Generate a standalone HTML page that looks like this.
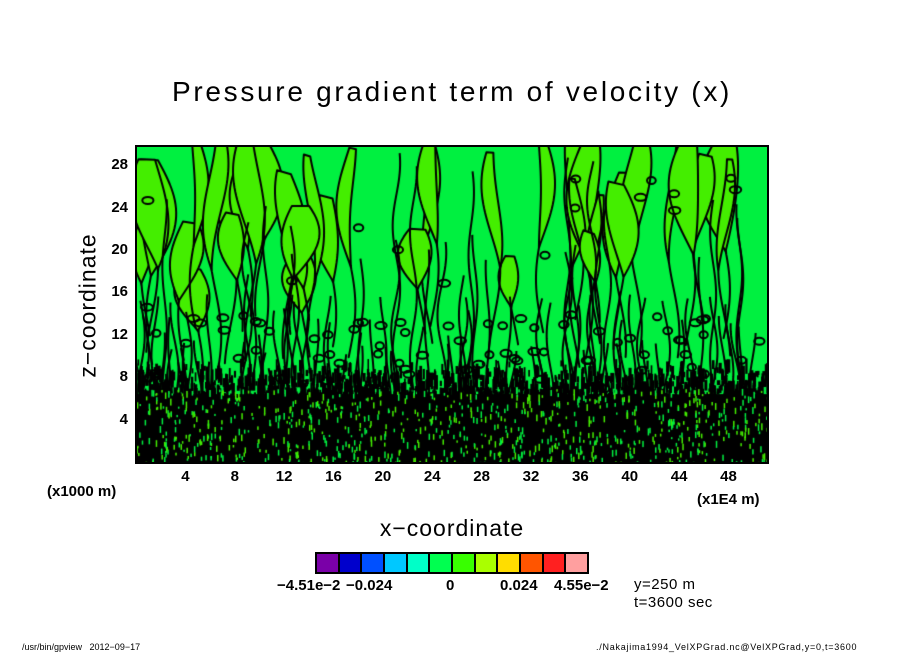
<!DOCTYPE html>
<html><head><meta charset="utf-8"><style>
body{margin:0;background:#fff;width:904px;height:654px;overflow:hidden;position:relative;font-family:"Liberation Sans",sans-serif}
.t{position:absolute;white-space:nowrap;color:#000}
</style></head><body>
<div class="t" style="left:0;width:904px;text-align:center;top:76px;font-size:28px;letter-spacing:2.7px">Pressure gradient term of velocity (x)</div>
<div class="t" style="left:-2px;top:292px;font-size:23px;transform:rotate(-90deg);width:180px;text-align:center;letter-spacing:1px">z−coordinate</div>
<div class="t" style="left:0;width:904px;text-align:center;top:515px;font-size:23px;letter-spacing:1px">x−coordinate</div>
<div class="t" style="left:47px;top:483px;font-size:15px;font-weight:bold">(x1000 m)</div>
<div class="t" style="left:697px;top:491px;font-size:15px;font-weight:bold">(x1E4 m)</div>
<div id="yt"></div><div id="xt"></div>
<canvas id="cv" width="632" height="317" style="position:absolute;left:136px;top:146px"></canvas>
<div style="position:absolute;left:135px;top:145px;width:634px;height:319px;border:2px solid #000;box-sizing:border-box"></div>
<div id="cb" style="position:absolute;left:315px;top:552px;height:22px;width:274px;box-sizing:border-box;border:2px solid #000;display:flex"></div>
<div class="t" style="left:277px;top:577px;font-size:15px;font-weight:bold">−4.51e−2</div>
<div class="t" style="left:346px;top:577px;font-size:15px;font-weight:bold">−0.024</div>
<div class="t" style="left:446px;top:577px;font-size:15px;font-weight:bold">0</div>
<div class="t" style="left:500px;top:577px;font-size:15px;font-weight:bold">0.024</div>
<div class="t" style="left:554px;top:577px;font-size:15px;font-weight:bold">4.55e−2</div>
<div class="t" style="left:634px;top:576px;font-size:15px;letter-spacing:0.5px">y=250 m</div>
<div class="t" style="left:634px;top:594px;font-size:15px;letter-spacing:0.5px">t=3600 sec</div>
<div class="t" style="left:22px;top:642px;font-size:9px">/usr/bin/gpview&nbsp;&nbsp; 2012−09−17</div>
<div class="t" style="left:596px;top:642px;font-size:9px;letter-spacing:0.75px">./Nakajima1994_VelXPGrad.nc@VelXPGrad,y=0,t=3600</div>
<script>
const xTicks=[4,8,12,16,20,24,28,32,36,40,44,48];
const yTicks=[4,8,12,16,20,24,28];
const cbColors=['#7a00a8','#0000cc','#0050ff','#00c8ff','#00ffc8','#00ff50','#38ff00','#aaff00','#ffdd00','#ff5500','#ff2020','#ff9f9f'];
const X0=136,XW=632,XMAX=51.2,Y0=463,YH=317,YMAX=29.9;
const sx=v=>X0+v/XMAX*XW, sy=v=>Y0-v/YMAX*YH;
const xt=document.getElementById('xt');
xTicks.forEach(v=>{const d=document.createElement('div');d.className='t';


d.style.cssText=`left:${sx(v)-20}px;width:40px;text-align:center;top:468px;font-size:15px;font-weight:bold`;d.textContent=v;xt.appendChild(d);});
const yt=document.getElementById('yt');
yTicks.forEach(v=>{const d=document.createElement('div');d.className='t';


d.style.cssText=`left:90px;width:38px;text-align:right;top:${sy(v)-10}px;font-size:15px;font-weight:bold`;d.textContent=v;yt.appendChild(d);});
const cb=document.getElementById('cb');
cbColors.forEach((c,i)=>{const d=document.createElement('div');


d.style.cssText=`flex:1;height:18px;background:${c};`+(i<11?'border-right:2px solid #000':'');cb.appendChild(d);});
// field texture
let s=12345;const r=()=>(s=(s*16807)%2147483647)/2147483647;
const c=document.getElementById('cv').getContext('2d');
const W=632,H=317,py=z=>H-z/YMAX*H;
c.fillStyle='#00f040';c.fillRect(0,0,W,H);
c.lineJoin='round';
// broad lime flame bands (pointed ends)
for(let i=0;i<38;i++){
 const x=r()*W, w=10+r()*30, top=r()<0.5?-10:py(18+r()*12), bot=py(r()*6+8);
 c.beginPath();let ph=r()*6;
 for(let y=top;y<=bot;y+=4){const t=(y-top)/(bot-top+1);const k=Math.sin(Math.PI*Math.min(1,t*1.5+0.15));c.lineTo(x+Math.sin(y/30+ph)*6-w*k/2,y);}
 for(let y=bot;y>=top;y-=4){const t=(y-top)/(bot-top+1);const k=Math.sin(Math.PI*Math.min(1,t*1.5+0.15));c.lineTo(x+Math.sin(y/30+ph)*6+w*k/2,y);}
 c.closePath();c.fillStyle='#44ee00';c.fill();c.lineWidth=2;c.strokeStyle='#000';c.stroke();
}
// contour lines, denser lower
c.strokeStyle='#000';c.lineWidth=2;
for(let i=0;i<110;i++){
 const x=r()*W, top=py(r()<0.3?14+r()*16:8+r()*8), bot=py(r()*7);let ph=r()*6,a=2+r()*3;
 c.beginPath();for(let y=top;y<=bot;y+=4)c.lineTo(x+Math.sin(y/20+ph)*a,y);c.stroke();
}
// ellipses
for(let i=0;i<90;i++){const x=r()*W,y=py(7+r()*(r()<0.75?7:20));
 c.beginPath();c.ellipse(x,y,4+r()*2,3.5,0,0,7);c.stroke();}
// dense bottom
c.fillStyle='#000';c.fillRect(0,py(6.5),W,H);
for(let i=0;i<3200;i++){const x=r()*W,z=6+r()*4,y=py(z);
 if(r()<(10-z)/4){c.fillRect(x,y,1.5+r()*2,4+r()*12);}}
for(let i=0;i<900;i++){const x=r()*W,y=py(r()*7);
 c.fillStyle=r()<0.5?'#00f040':'#44ee00';c.fillRect(x,y,1.5,2+r()*5);}
</script>
</body></html>
